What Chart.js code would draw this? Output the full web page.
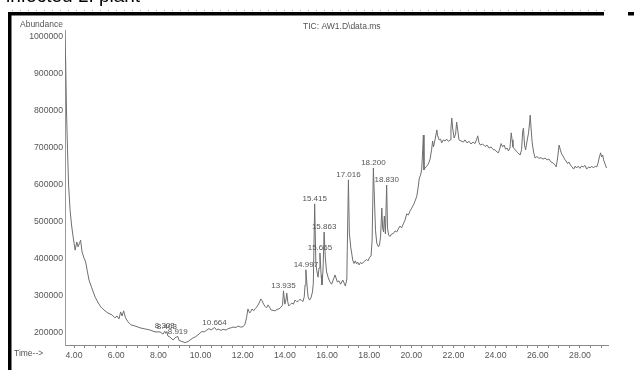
<!DOCTYPE html>
<html>
<head>
<meta charset="utf-8">
<script src="https://cdn.jsdelivr.net/npm/chart.js@4/dist/chart.umd.min.js"></script>
<style>
  html, body { margin: 0; padding: 0; background: #fff; overflow: hidden; }
  canvas { display: block; }
</style>
</head>
<body>
<canvas id="c" width="634" height="370"></canvas>
<script>
// Total ion chromatogram: retention time (min) vs abundance
const times = [
  3.55, 3.60, 3.64, 3.69, 3.74, 3.81, 3.88, 3.95, 4.05, 4.13, 4.19, 4.26, 4.31, 4.38, 4.47, 4.55, 4.62, 4.71, 4.84, 5.00,
  5.15, 5.28, 5.42, 5.61, 5.80, 5.94, 6.04, 6.13, 6.21, 6.28, 6.35, 6.44, 6.56, 6.70, 6.89, 7.13, 7.37, 7.61, 7.84, 8.08,
  8.22, 8.303, 8.35, 8.403, 8.45, 8.55, 8.70, 8.79, 8.919, 8.98, 9.12, 9.27, 9.41, 9.50, 9.65, 9.74, 9.88, 10.06, 10.17, 10.30,
  10.40, 10.50, 10.664, 10.76, 10.83, 10.97, 11.07, 11.21, 11.31, 11.45, 11.54, 11.69, 11.78, 11.90, 12.02, 12.11, 12.18, 12.25, 12.33, 12.38,
  12.44, 12.52, 12.59, 12.68, 12.78, 12.86, 12.92, 12.99, 13.06, 13.13, 13.20, 13.27, 13.35, 13.44, 13.54, 13.63, 13.72, 13.82, 13.89, 13.935,
  14.00, 14.05, 14.09, 14.14, 14.18, 14.25, 14.33, 14.41, 14.48, 14.56, 14.65, 14.72, 14.80, 14.86, 14.92, 14.96, 14.997, 15.05, 15.10, 15.17,
  15.24, 15.31, 15.35, 15.415, 15.47, 15.51, 15.575, 15.62, 15.665, 15.72, 15.76, 15.81, 15.863, 15.92, 15.98, 16.06, 16.14, 16.22, 16.31, 16.38,
  16.49, 16.57, 16.64, 16.75, 16.81, 16.87, 16.94, 16.96, 17.016, 17.06, 17.13, 17.17, 17.22, 17.28, 17.34, 17.40, 17.45, 17.52, 17.59, 17.66,
  17.73, 17.80, 17.88, 17.95, 18.02, 18.09, 18.14, 18.200, 18.26, 18.30, 18.36, 18.44, 18.49, 18.54, 18.60, 18.64, 18.68, 18.72, 18.77, 18.830,
  18.87, 18.92, 18.99, 19.07, 19.15, 19.23, 19.31, 19.38, 19.46, 19.54, 19.62, 19.70, 19.78, 19.86, 19.94, 20.02, 20.10, 20.18, 20.26, 20.32,
  20.38, 20.44, 20.49, 20.54, 20.57, 20.60, 20.65, 20.73, 20.81, 20.89, 20.96, 21.01, 21.05, 21.13, 21.21, 21.25, 21.32, 21.39, 21.44, 21.52,
  21.60, 21.68, 21.76, 21.84, 21.88, 21.92, 21.96, 22.03, 22.10, 22.15, 22.20, 22.26, 22.36, 22.47, 22.55, 22.64, 22.74, 22.83, 22.93, 23.02,
  23.09, 23.15, 23.21, 23.28, 23.38, 23.50, 23.59, 23.69, 23.78, 23.88, 23.97, 24.07, 24.13, 24.19, 24.26, 24.33, 24.40, 24.47, 24.54, 24.61,
  24.68, 24.74, 24.78, 24.82, 24.90, 24.97, 25.06, 25.16, 25.23, 25.28, 25.32, 25.37, 25.42, 25.49, 25.56, 25.61, 25.64, 25.68, 25.73, 25.80,
  25.87, 25.96, 26.06, 26.15, 26.25, 26.34, 26.44, 26.53, 26.63, 26.72, 26.82, 26.87, 26.94, 27.01, 27.06, 27.13, 27.20, 27.27, 27.34, 27.41,
  27.48, 27.55, 27.62, 27.70, 27.77, 27.84, 27.92, 28.00, 28.07, 28.16, 28.24, 28.32, 28.41, 28.48, 28.56, 28.64, 28.72, 28.80, 28.86, 28.91,
  28.98, 29.03, 29.08, 29.12, 29.19, 29.26
];

const abundance = [
  1011000, 938000, 803000, 695000, 600000, 533000, 492000, 462000, 424000, 446000, 433000, 443000, 451000, 419000, 403000, 392000, 370000, 343000, 322000, 297000,
  281000, 270000, 262000, 254000, 249000, 241000, 246000, 238000, 257000, 246000, 260000, 241000, 230000, 222000, 219000, 214000, 211000, 208000, 203000, 203000,
  197000, 205000, 199000, 204000, 192000, 189000, 181000, 187000, 191000, 180000, 177000, 174000, 177000, 181000, 187000, 189000, 195000, 204000, 203000, 208000,
  212000, 208000, 215000, 208000, 211000, 207000, 210000, 208000, 212000, 214000, 216000, 215000, 219000, 216000, 217000, 224000, 241000, 265000, 254000, 258000,
  265000, 260000, 266000, 271000, 281000, 292000, 287000, 278000, 272000, 268000, 276000, 270000, 262000, 261000, 260000, 264000, 265000, 270000, 276000, 314000,
  278000, 289000, 308000, 284000, 273000, 277000, 281000, 278000, 289000, 285000, 287000, 291000, 288000, 285000, 298000, 330000, 371000, 330000, 298000, 289000,
  295000, 311000, 335000, 549000, 392000, 370000, 351000, 376000, 416000, 357000, 330000, 370000, 473000, 403000, 365000, 349000, 338000, 332000, 346000, 357000,
  338000, 341000, 332000, 343000, 335000, 327000, 346000, 424000, 614000, 470000, 430000, 416000, 397000, 388000, 395000, 387000, 392000, 384000, 391000, 387000,
  392000, 395000, 399000, 395000, 405000, 408000, 451000, 646000, 546000, 478000, 443000, 433000, 438000, 460000, 538000, 484000, 473000, 516000, 468000, 600000,
  484000, 465000, 461000, 468000, 469000, 476000, 473000, 481000, 489000, 484000, 495000, 505000, 522000, 519000, 530000, 538000, 546000, 557000, 570000, 592000,
  619000, 627000, 641000, 695000, 735000, 641000, 646000, 651000, 657000, 670000, 695000, 719000, 703000, 724000, 749000, 733000, 722000, 724000, 714000, 722000,
  719000, 724000, 718000, 722000, 754000, 781000, 754000, 727000, 738000, 770000, 749000, 722000, 719000, 716000, 722000, 714000, 718000, 711000, 716000, 712000,
  722000, 733000, 714000, 708000, 711000, 704000, 708000, 700000, 703000, 696000, 695000, 689000, 687000, 697000, 712000, 703000, 708000, 697000, 700000, 692000,
  700000, 741000, 722000, 703000, 697000, 692000, 687000, 681000, 695000, 743000, 754000, 708000, 695000, 719000, 741000, 768000, 789000, 754000, 716000, 689000,
  673000, 677000, 672000, 674000, 670000, 673000, 668000, 670000, 662000, 660000, 654000, 649000, 673000, 708000, 697000, 684000, 678000, 670000, 665000, 658000,
  662000, 654000, 649000, 643000, 651000, 646000, 651000, 645000, 651000, 649000, 653000, 643000, 649000, 646000, 651000, 646000, 651000, 649000, 660000, 673000,
  687000, 676000, 681000, 668000, 657000, 646000
];

// Retention times of the labelled peaks
const peakTimes = [8.303, 8.403, 8.919, 10.664, 13.935, 14.997, 15.415, 15.665, 15.863, 17.016, 18.200, 18.830];

// Axis ticks
const xMajorTicks = [4, 6, 8, 10, 12, 14, 16, 18, 20, 22, 24, 26, 28];
const xMinorTicks = [4, 4.5, 5, 5.5, 6, 6.5, 7, 7.5, 8, 8.5, 9, 9.5, 10, 10.5, 11, 11.5, 12, 12.5, 13, 13.5,
  14, 14.5, 15, 15.5, 16, 16.5, 17, 17.5, 18, 18.5, 19, 19.5, 20, 20.5, 21, 21.5, 22, 22.5, 23, 23.5,
  24, 24.5, 25, 25.5, 26, 26.5, 27, 27.5, 28, 28.5, 29];
const yTicks = [200000, 300000, 400000, 500000, 600000, 700000, 800000, 900000, 1000000];

const FONT = "'Liberation Sans', Arial, sans-serif";
const TEXT = '#555';

const decor = {
  id: 'decor',
  afterDatasetsDraw(chart) {
    const { ctx, scales: { x, y } } = chart;
    ctx.save();
    ctx.font = '8px ' + FONT;
    ctx.fillStyle = TEXT;
    ctx.textAlign = 'center';
    ctx.textBaseline = 'bottom';
    peakTimes.forEach(t => {
      const i = times.indexOf(t);
      const px = x.getPixelForValue(t);
      const py = y.getPixelForValue(abundance[i]);
      ctx.fillText(t.toFixed(3), px, py - 1);
    });
    ctx.restore();
  },
  afterDraw(chart) {
    const { ctx } = chart;
    ctx.save();
    // page caption running above the frame
    ctx.fillStyle = '#000';
    ctx.font = '19px ' + FONT;
    ctx.textBaseline = 'alphabetic';
    ctx.textAlign = 'left';
    ctx.fillText('infected L. plant', 6, 2);

    // frame
    ctx.fillStyle = '#000';
    ctx.fillRect(8, 12, 596, 3.5);
    ctx.fillRect(8, 12, 3.5, 358);
    ctx.fillRect(628, 12, 6, 3.5);
    ctx.strokeStyle = '#aaa';
    ctx.lineWidth = 1;
    ctx.setLineDash([1, 7]);
    ctx.beginPath();
    ctx.moveTo(12, 10.5);
    ctx.lineTo(606, 10.5);
    ctx.stroke();
    ctx.setLineDash([]);

    // header and axis captions
    ctx.fillStyle = TEXT;
    ctx.font = '8.5px ' + FONT;
    ctx.textBaseline = 'middle';
    ctx.fillText('Abundance', 20, 24.5);
    ctx.fillText('TIC: AW1.D\\data.ms', 303, 26.5);
    ctx.fillText('Time-->', 14, 354);
    ctx.restore();
  }
};

new Chart(document.getElementById('c'), {
  type: 'line',
  data: {
    datasets: [{
      data: times.map((t, i) => ({ x: t, y: abundance[i] })),
      borderColor: '#6e6e6e',
      borderWidth: 1,
      pointRadius: 0,
      tension: 0,
      fill: false
    }]
  },
  options: {
    responsive: false,
    animation: false,
    devicePixelRatio: 1,
    layout: { padding: { top: 30, right: 26, bottom: 0, left: 0 } },
    plugins: { legend: { display: false }, tooltip: { enabled: false } },
    scales: {
      x: {
        type: 'linear',
        min: 3.57,
        max: 29.33,
        afterBuildTicks: s => { s.ticks = xMinorTicks.map(v => ({ value: v })); },
        afterFit: s => { s.height = 25; },
        ticks: {
          autoSkip: false,
          maxRotation: 0,
          minRotation: 0,
          padding: 2,
          color: TEXT,
          font: { family: FONT, size: 8.7 },
          callback: v => xMajorTicks.includes(v) ? v.toFixed(2) : ''
        },
        grid: { drawOnChartArea: false, drawTicks: true, tickLength: 3, color: '#8a8a8a' },
        border: { display: true, color: '#8a8a8a', width: 1 }
      },
      y: {
        min: 167600,
        max: 1019000,
        afterBuildTicks: s => { s.ticks = yTicks.map(v => ({ value: v })); },
        afterFit: s => { s.width = 65; },
        ticks: {
          padding: 2,
          color: TEXT,
          font: { family: FONT, size: 8.7 },
          callback: v => String(v)
        },
        grid: { drawOnChartArea: false, drawTicks: false },
        border: { display: true, color: '#9a9a9a', width: 1 }
      }
    }
  },
  plugins: [decor]
});
</script>
</body>
</html>
